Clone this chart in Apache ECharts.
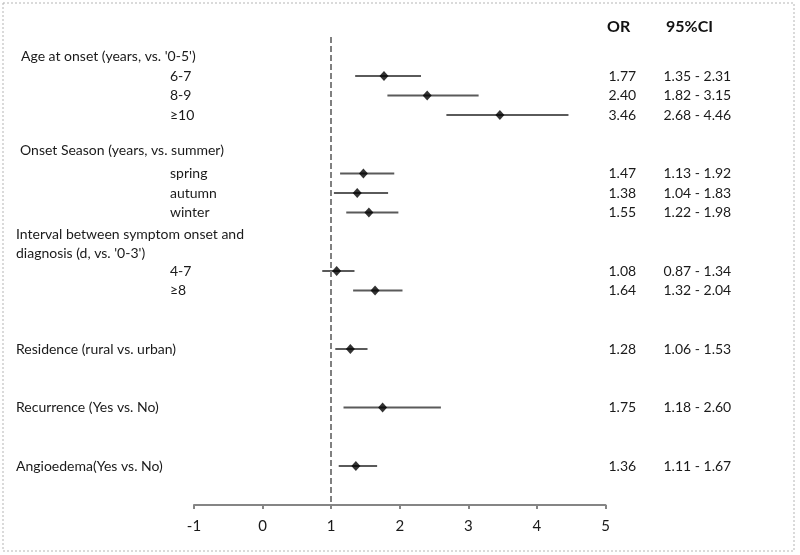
<!DOCTYPE html>
<html>
<head>
<meta charset="utf-8">
<script src="https://cdn.jsdelivr.net/npm/echarts@6/dist/echarts.min.js"></script>
<style>html,body{margin:0;padding:0;background:#fff;}#c{width:800px;height:555px;}</style>
</head>
<body>
<div id="c"></div>
<script>
// Rows, top to bottom
const rowLabels = ['', "Age at onset (years, vs. '0-5')", '6-7', '8-9', '≥10', '',
  'Onset Season (years, vs. summer)', 'spring', 'autumn', 'winter',
  'Interval between symptom onset and', "diagnosis (d, vs. '0-3')", '4-7', '≥8', '', '',
  'Residence (rural vs. urban)', '', '', 'Recurrence (Yes vs. No)', '', '',
  'Angioedema(Yes vs. No)', '', ''];
const rowKinds = ['', 'h', 's', 's', 's', '', 'hu', 's', 's', 's', 'vd', 'vd', 's', 's', '', '',
  'v', '', '', 'v', '', '', 'v', '', ''];
const orValues = [null, null, 1.77, 2.40, 3.46, null, null, 1.47, 1.38, 1.55, null, null, 1.08, 1.64, null, null,
  1.28, null, null, 1.75, null, null, 1.36, null, null];
const ciLow = [null, null, 1.35, 1.82, 2.68, null, null, 1.13, 1.04, 1.22, null, null, 0.87, 1.32, null, null,
  1.06, null, null, 1.18, null, null, 1.11, null, null];
const ciHigh = [null, null, 2.31, 3.15, 4.46, null, null, 1.92, 1.83, 1.98, null, null, 1.34, 2.04, null, null,
  1.53, null, null, 2.60, null, null, 1.67, null, null];
const xTicks = [-1, 0, 1, 2, 3, 4, 5];
const refValue = 1;

const FONT = 'Lato';
const TXT = '#1a1a1a';
const FS = 14;
const rowIdx = rowLabels.map((_, i) => String(i));

const ciData = [], orData = [];
orValues.forEach((v, i) => {
  if (v != null) {
    ciData.push([ciLow[i], ciHigh[i], i]);
    orData.push([v, i]);
  }
});

const base = { fontSize: FS, color: TXT, fontFamily: FONT };
const chart = echarts.init(document.getElementById('c'));
chart.setOption({
  animation: false,
  backgroundColor: '#fff',
  textStyle: { fontFamily: FONT },
  grid: { left: 194, right: 194.5, top: 37, bottom: 50, containLabel: false },
  xAxis: {
    type: 'value', min: xTicks[0], max: xTicks[xTicks.length - 1], interval: 1,
    splitLine: { show: false },
    axisLine: { show: true, lineStyle: { color: '#858585', width: 2 } },
    axisTick: { show: true, length: 4, lineStyle: { color: '#858585', width: 2 } },
    axisLabel: { color: TXT, fontSize: 15, margin: 14, fontFamily: FONT }
  },
  yAxis: [{
    type: 'category', data: rowIdx, inverse: true, boundaryGap: false,
    axisLine: { show: false }, axisTick: { show: false }, splitLine: { show: false },
    axisLabel: {
      interval: 0, align: 'left', margin: 178, color: TXT, fontSize: FS, fontFamily: FONT,
      formatter: (v) => {
        const i = +v; const t = rowLabels[i];
        if (!t) return '';
        return '{' + rowKinds[i] + '|' + t + '}';
      },
      rich: {
        h: Object.assign({ padding: [0, 0, 0, 5] }, base),
        hu: Object.assign({ padding: [0, 0, 8, 4] }, base),
        v: Object.assign({ padding: [0, 0, 0, 0] }, base),
        vd: Object.assign({ padding: [4, 0, 0, 0] }, base),
        s: Object.assign({ padding: [0, 0, 0, 154] }, base)
      }
    }
  }, {
    type: 'category', data: rowIdx, inverse: true, boundaryGap: false, position: 'right',
    axisLine: { show: false }, axisTick: { show: false }, splitLine: { show: false },
    axisLabel: {
      interval: 0, align: 'left', margin: 3, color: TXT, fontSize: FS, fontFamily: FONT,
      formatter: (v) => {
        const i = +v;
        if (orValues[i] == null) return '';
        return '{o|' + orValues[i].toFixed(2) + '}{c|' + ciLow[i].toFixed(2) + ' - ' + ciHigh[i].toFixed(2) + '}';
      },
      rich: {
        o: Object.assign({ width: 55 }, base),
        c: Object.assign({}, base)
      }
    }
  }],
  graphic: [
    { type: 'rect', shape: { x: 3, y: 3, width: 791, height: 548 }, silent: true,
      style: { fill: 'none', stroke: '#b5b5b5', lineWidth: 1, lineDash: [2, 2] } },
    { type: 'text', left: 607, top: 19, style: { text: 'OR', font: 'bold 16px ' + FONT, fill: '#111' } },
    { type: 'text', left: 666, top: 19, style: { text: '95%CI', font: 'bold 16px ' + FONT, fill: '#111' } }
  ],
  series: [{
    type: 'custom',
    xAxisIndex: 0, yAxisIndex: 0,
    data: ciData,
    encode: { x: [0, 1], y: 2 },
    renderItem: (params, api) => {
      const a = api.coord([api.value(0), api.value(2)]);
      const b = api.coord([api.value(1), api.value(2)]);
      return { type: 'line', shape: { x1: a[0], y1: a[1], x2: b[0], y2: b[1] },
        style: { stroke: '#5a5a5a', lineWidth: 2 } };
    },
    silent: true, z: 2
  }, {
    type: 'scatter',
    xAxisIndex: 0, yAxisIndex: 0,
    data: orData,
    symbol: 'diamond', symbolSize: [9, 10],
    itemStyle: { color: '#000' },
    z: 3,
    markLine: {
      silent: true, symbol: ['none', 'none'], label: { show: false },
      lineStyle: { color: '#808080', type: [6, 3], width: 2 },
      data: [{ xAxis: refValue }]
    }
  }]
});
</script>
</body>
</html>
